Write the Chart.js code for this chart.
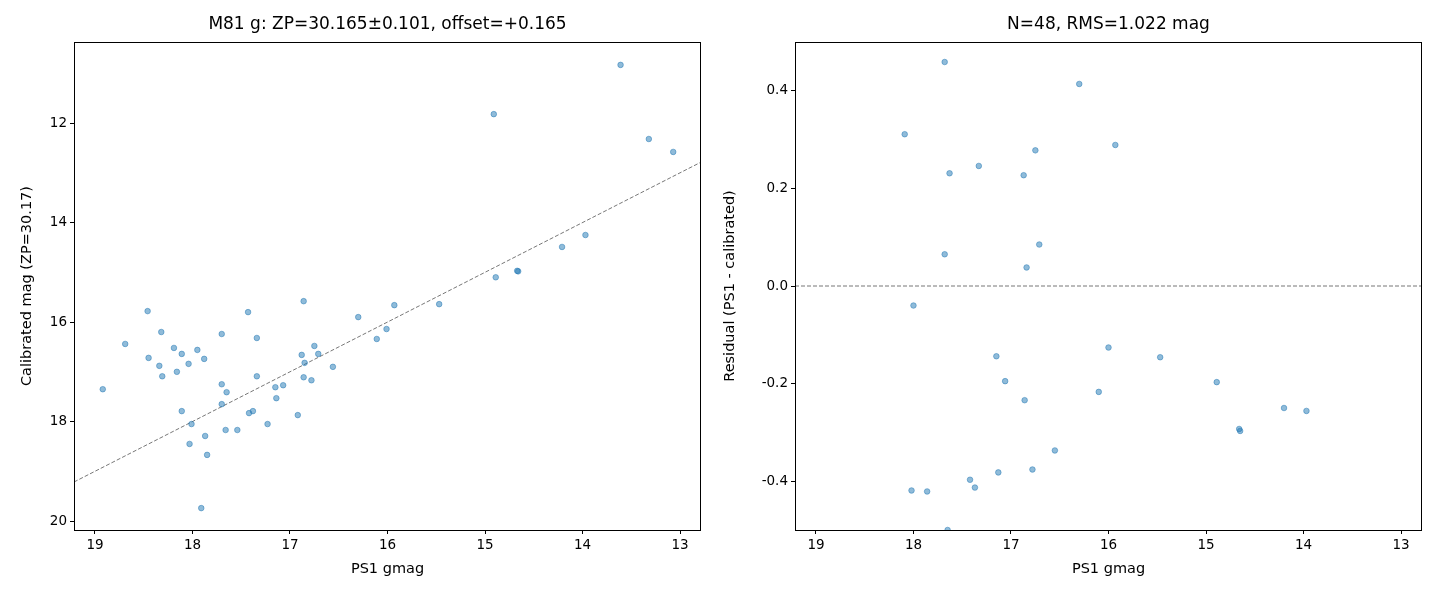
<!DOCTYPE html>
<html><head><meta charset="utf-8">
<script src="https://cdn.jsdelivr.net/npm/chart.js@4/dist/chart.umd.min.js"></script>
<style>body{margin:0;background:#fff;width:1440px;height:600px;position:relative;overflow:hidden}
.c{position:absolute;top:0;width:720px;height:600px}</style></head><body>
<div class="c" style="left:0"><canvas id="a"></canvas></div>
<div class="c" style="left:720px"><canvas id="b"></canvas></div>
<script>
const psMag=[18.92,18.69,18.46,18.45,18.32,18.34,18.31,18.19,18.16,18.11,18.11,18.04,18.03,18.01,17.95,17.91,17.88,17.87,17.85,17.70,17.70,17.70,17.65,17.66,17.54,17.43,17.42,17.38,17.34,17.34,17.23,17.15,17.14,17.07,16.92,16.88,16.86,16.85,16.86,16.78,16.75,16.71,16.56,16.30,16.11,16.01,15.93,15.47,14.91,14.89,14.67,14.66,14.21,13.97,13.61,13.32,13.07];
const calMag=[17.35,16.44,15.78,16.72,16.2,16.88,17.09,16.52,17.0,16.64,17.79,16.84,18.45,18.05,16.56,19.74,16.74,18.29,18.67,16.24,17.25,17.65,17.41,18.17,18.17,15.8,17.83,17.79,16.32,17.09,18.05,17.31,17.53,17.27,17.87,16.66,15.58,16.82,17.11,17.17,16.48,16.64,16.9,15.9,16.34,16.14,15.66,15.64,11.82,15.1,14.97,14.98,14.49,14.25,10.83,12.32,12.58];
const fitX=[19.215,12.785];
const fitY=[19.215,12.785];
const resX=[17.68,16.30,18.09,15.93,16.75,17.33,17.63,16.87,16.71,17.68,16.84,18.0,16.0,17.15,15.47,17.06,16.10,16.86,16.55,16.78,17.13,17.42,17.37,18.02,17.86,17.65,14.89,14.66,14.65,14.20,13.97];
const resY=[0.459,0.414,0.311,0.289,0.278,0.246,0.231,0.227,0.085,0.065,0.038,-0.04,-0.126,-0.144,-0.146,-0.195,-0.217,-0.234,-0.337,-0.376,-0.382,-0.397,-0.413,-0.419,-0.421,-0.5,-0.197,-0.293,-0.297,-0.25,-0.256];
const xTicks=[19,18,17,16,15,14,13];
const yTicksL=[12,14,16,18,20];
const yTicksR=[-0.4,-0.2,0.0,0.2,0.4];
const titles=["M81 g: ZP=30.165±0.101, offset=+0.165","N=48, RMS=1.022 mag"];
const yLabels=["Calibrated mag (ZP=30.17)","Residual (PS1 - calibrated)"];

Chart.defaults.font.family="DejaVu Sans";
Chart.defaults.color="#000";
const frame={id:'frame',afterDraw(c){const a=c.chartArea,x=c.ctx;x.save();x.strokeStyle='#000';x.lineWidth=1;x.strokeRect(a.left+0.5,a.top+0.5,a.right-a.left-1,a.bottom-a.top);
x.font='17px DejaVu Sans';x.textAlign='center';x.textBaseline='middle';x.fillStyle='#000';x.fillText(c.options.plugins.myTitle,(a.left+a.right)/2,25);x.restore();}};
function axis(min,max,ticks,reverse,title,fit,fmt){return{type:'linear',min,max,reverse,
 afterBuildTicks:s=>{s.ticks=ticks.map(v=>({value:v}));},
 afterFit:s=>{if(s.isHorizontal())s.height=fit;else s.width=fit;},
 grid:{display:true,drawOnChartArea:false,drawTicks:true,tickLength:4,color:'#000'},border:{display:false},
 ticks:{font:{size:13.5},color:'#000',padding:3,callback:fmt},
 title:{display:true,text:title,font:{size:14.5},padding:2}};}
const pt={backgroundColor:'rgba(31,119,180,0.5)',borderColor:'rgba(31,119,180,0.6)',pointRadius:2.8,pointBorderWidth:0.8,showLine:false};
function mk(id,data,yMin,yMax,yT,yRev,ti,yl,fmt,padR,padL,yw){
 new Chart(document.getElementById(id),{type:'scatter',data:{datasets:data},
 options:{responsive:false,animation:false,devicePixelRatio:1,layout:{padding:{top:42,right:padR,left:padL,bottom:20}},
 plugins:{legend:{display:false},tooltip:{enabled:false},myTitle:ti},
 scales:{x:axis(12.785,19.215,xTicks,true,'PS1 gmag',50,v=>v),y:axis(yMin,yMax,yT,yRev,yl,yw,fmt)}},plugins:[frame]});}
document.getElementById('a').width=720;document.getElementById('a').height=600;
document.getElementById('b').width=720;document.getElementById('b').height=600;
mk('a',[{...pt,data:psMag.map((x,i)=>({x,y:calMag[i]}))},
 {type:'line',data:fitX.map((x,i)=>({x,y:fitY[i]})),borderColor:'#777',borderWidth:1,borderDash:[4,2],pointRadius:0}],
 10.37,20.18,yTicksL,true,titles[0],yLabels[0],v=>v,19,17,57);
mk('b',[{...pt,data:resX.map((x,i)=>({x,y:resY[i]}))},
 {type:'line',data:fitX.map(x=>({x,y:0})),borderColor:'#777',borderWidth:1,borderDash:[4,2],pointRadius:0}],
 -0.5,0.5,yTicksR,false,titles[1],yLabels[1],v=>Math.abs(v)<1e-9?'0.0':v.toFixed(1),18,0,75);
</script></body></html>
